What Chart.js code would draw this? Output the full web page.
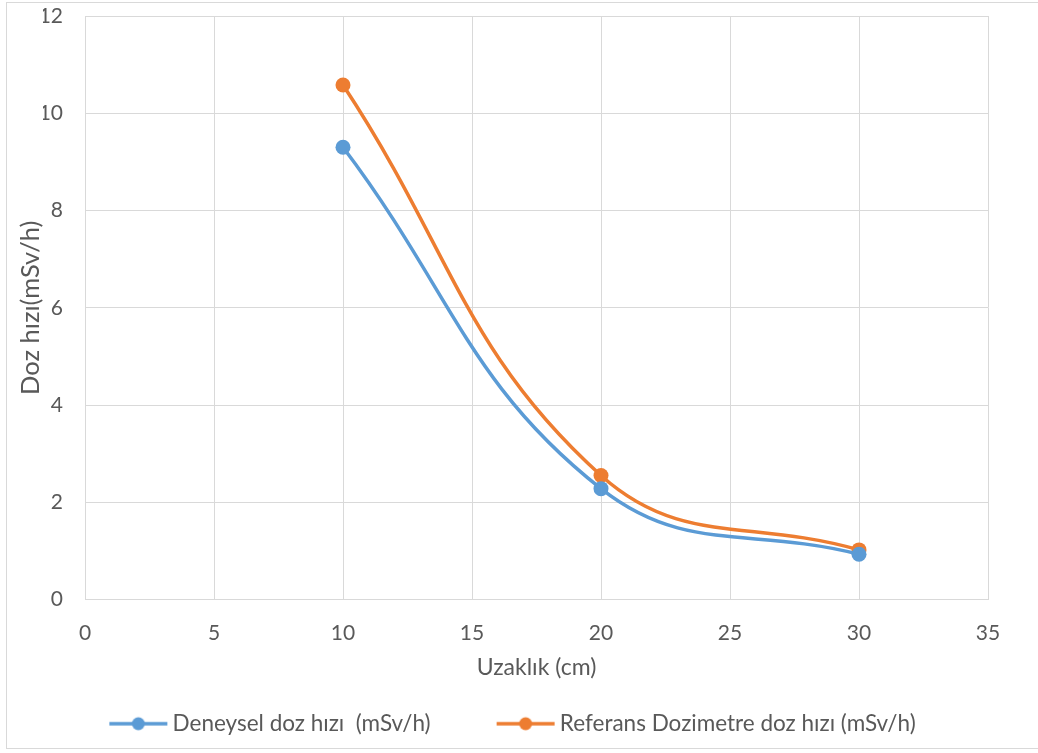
<!DOCTYPE html>
<html>
<head>
<meta charset="utf-8">
<script src="https://cdn.jsdelivr.net/npm/chart.js@4.4.1/dist/chart.umd.min.js"></script>
<style>
  html, body { margin:0; padding:0; background:#fff; }
  #wrap { position:relative; width:1038px; height:753px; overflow:hidden; }
  #frame { position:absolute; left:6px; top:2px; width:1040px; height:747px; border:1px solid #d9d9d9; box-sizing:border-box; }
  canvas { position:absolute; left:0; top:0; }
</style>
</head>
<body>
<div id="wrap">
  <div id="frame"></div>
  <canvas id="grafik" width="1038" height="753"></canvas>
</div>
<script>
// veriler
const uzaklik   = [10, 20, 30];
const deneysel  = [9.3, 2.28, 0.93];
const referans  = [10.58, 2.55, 1.02];
const etiketler = ['Deneysel doz hızı  (mSv/h)', 'Referans Dozimetre doz hızı (mSv/h)'];
const renkler   = ['#5B9BD5', '#ED7D31'];

const YAZI = 'Lato, "Open Sans", sans-serif';
const GRI  = '#595959';

// lejant işareti: çizgi + daire
function lejantIsareti(renk) {
  const c = document.createElement('canvas');
  c.width = 60; c.height = 16;
  const g = c.getContext('2d');
  g.strokeStyle = renk; g.lineWidth = 3.5;
  g.beginPath(); g.moveTo(1, 8); g.lineTo(59, 8); g.stroke();
  g.fillStyle = renk;
  g.beginPath(); g.arc(30, 8, 6.5, 0, Math.PI*2); g.fill();
  return c;
}
const isaretler = renkler.map(lejantIsareti);

const seri = (veri, i) => ({
  label: etiketler[i],
  data: uzaklik.map((x, k) => ({ x, y: veri[k] })),
  borderColor: renkler[i],
  backgroundColor: renkler[i],
  borderWidth: 3.5,
  pointStyle: 'circle',
  pointRadius: 7.5,
  pointHoverRadius: 7.5,
  pointBorderWidth: 0,
  tension: 0.42
});

new Chart(document.getElementById('grafik'), {
  type: 'line',
  data: { datasets: [seri(deneysel, 0), seri(referans, 1)] },
  options: {
    responsive: false,
    animation: false,
    layout: { padding: { left: 43, top: 16, right: 50, bottom: 8 } },
    plugins: {
      tooltip: { enabled: false },
      legend: {
        position: 'bottom',
        labels: {
          usePointStyle: true,
          pointStyleWidth: 46,
          padding: 72,
          color: GRI,
          font: { family: YAZI, size: 22.5 },
          generateLabels(chart) {
            return chart.data.datasets.map((d, i) => ({
              text: d.label, fillStyle: d.borderColor, strokeStyle: d.borderColor,
              pointStyle: isaretler[i], fontColor: GRI, datasetIndex: i, hidden: false, lineWidth: 0
            }));
          }
        }
      }
    },
    scales: {
      x: {
        type: 'linear', min: 0, max: 35,
        ticks: { stepSize: 5, color: GRI, font: { family: YAZI, size: 21 }, padding: 21 },
        grid: { color: '#d9d9d9', lineWidth: 1, drawTicks: false },
        border: { color: '#d9d9d9' },
        title: { display: true, text: 'Uzaklık (cm)', color: GRI, font: { family: YAZI, size: 23 }, padding: { top: 0, bottom: -41 } },
        afterFit(s) { s.height = 41; }
      },
      y: {
        min: 0, max: 12,
        ticks: { stepSize: 2, color: GRI, font: { family: YAZI, size: 21 }, padding: 22 },
        grid: { color: '#d9d9d9', lineWidth: 1, drawTicks: false },
        border: { color: '#d9d9d9' },
        title: { display: true, text: 'Doz hızı(mSv/h)', color: GRI, font: { family: YAZI, size: 25.5 }, padding: { top: -28, bottom: 0 } },
        afterFit(s) { s.width = 42; s.paddingTop = 0; s.paddingBottom = 0; }
      }
    }
  }
});
</script>
</body>
</html>
